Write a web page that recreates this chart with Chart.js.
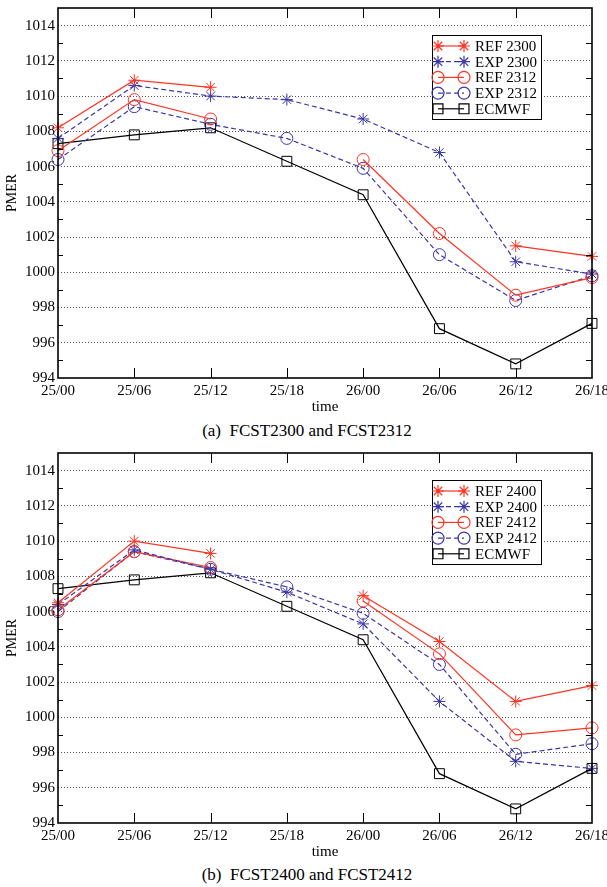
<!DOCTYPE html>
<html>
<head>
<meta charset="utf-8">
<script src="https://cdn.jsdelivr.net/npm/chart.js@4.4.0/dist/chart.umd.min.js"></script>
<style>
  body { margin: 0; background: #fff; }
  #page { position: relative; width: 607px; height: 887px; overflow: hidden; }
  canvas { position: absolute; left: 0; }
  .cap { position: absolute; left: 0; width: 614px; text-align: center; font: 17px "Liberation Serif", serif; color: #000; }
</style>
</head>
<body>
<div id="page">
  <canvas id="chartA" width="607" height="416" style="top:0"></canvas>
  <div class="cap" style="top:421px">(a)&nbsp; FCST2300 and FCST2312</div>
  <canvas id="chartB" width="607" height="416" style="top:445px"></canvas>
  <div class="cap" style="top:865px">(b)&nbsp; FCST2400 and FCST2412</div>
</div>
<script>
  /* ---------------- data ---------------- */
  const TIMES = ["25/00", "25/06", "25/12", "25/18", "26/00", "26/06", "26/12", "26/18"];

  const ECMWF    = [1007.3, 1007.8, 1008.2, 1006.3, 1004.4, 996.8, 994.8, 997.1];

  const REF_2300 = [1008.2, 1010.9, 1010.5, null, null, null, 1001.5, 1000.9];
  const EXP_2300 = [1007.6, 1010.6, 1010.0, 1009.8, 1008.7, 1006.8, 1000.6, 999.9];
  const REF_2312 = [1006.9, 1009.8, 1008.7, null, 1006.4, 1002.2, 998.7, 999.7];
  const EXP_2312 = [1006.4, 1009.4, 1008.4, 1007.6, 1005.9, 1001.0, 998.4, 999.8];

  const REF_2400 = [1006.5, 1010.0, 1009.3, null, 1006.9, 1004.3, 1000.9, 1001.8];
  const EXP_2400 = [1006.4, 1009.5, 1008.4, 1007.1, 1005.3, 1000.9, 997.5, 997.1];
  const REF_2412 = [1006.1, 1009.4, 1008.5, null, 1006.6, 1003.6, 999.0, 999.4];
  const EXP_2412 = [1006.0, 1009.4, 1008.4, 1007.4, 1005.9, 1003.0, 997.9, 998.5];

  const Y_MIN = 994, Y_MAX = 1015, Y_TOP_LABEL = 1014;

  const RED = "#ff3322";
  const BLUE = "#3a36a6";
  const FONT = "'Liberation Serif', 'Times New Roman', serif";

  function series(label, data, color, dashed, marker){
    const r = marker === "rect" ? 7 : 6;
    return {
      label, data,
      borderColor: color,
      borderWidth: 1.2,
      borderDash: dashed ? [5, 3] : [],
      pointStyle: marker,
      pointRadius: r,
      pointHoverRadius: r,
      pointBorderColor: color,
      pointBackgroundColor: "rgba(0,0,0,0)",
      pointBorderWidth: 1,
      fill: false,
      tension: 0,
      spanGaps: false
    };
  }

  /* ---------------- frame, inward ticks, boxed legend ---------------- */
  const framePlugin = {
    id: "frame",
    afterDraw(chart){
      const {ctx, chartArea: a, scales} = chart;
      const x = scales.x, y = scales.y;
      ctx.save();
      ctx.strokeStyle = "#000";
      ctx.setLineDash([]);
      ctx.lineWidth = 1;

      // x ticks pointing in, top and bottom
      for (let i = 1; i < TIMES.length - 1; i++){
        const px = Math.round(x.getPixelForValue(i)) + 0.5;
        ctx.beginPath();
        ctx.moveTo(px, a.bottom); ctx.lineTo(px, a.bottom - 10);
        ctx.moveTo(px, a.top); ctx.lineTo(px, a.top + 10);
        ctx.stroke();
      }
      // y minor ticks, left and right
      for (let v = Y_MIN + 1; v < Y_MAX; v += 2){
        const py = Math.round(y.getPixelForValue(v)) + 0.5;
        ctx.beginPath();
        ctx.moveTo(a.left, py); ctx.lineTo(a.left + 5, py);
        ctx.moveTo(a.right, py); ctx.lineTo(a.right - 6, py);
        ctx.stroke();
      }
      // box
      ctx.lineWidth = 1.6;
      ctx.strokeRect(a.left, a.top, a.right - a.left, a.bottom - a.top);

      // legend
      const sets = chart.data.datasets;
      const bw = 109, rowH = 15.7;
      const bh = 84;
      const bx = a.right - 51 - bw, by = a.top + 27;
      ctx.fillStyle = "#fff";
      ctx.fillRect(bx, by, bw, bh);
      ctx.lineWidth = 1;
      ctx.strokeStyle = "#000";
      ctx.strokeRect(bx + 0.5, by + 0.5, bw, bh);
      ctx.font = "15px " + FONT;
      ctx.textBaseline = "middle";
      sets.forEach((ds, i) => {
        const ry = by + 11 + i * rowH;
        const x1 = bx + 6, x2 = bx + 32;
        ctx.strokeStyle = ds.borderColor;
        ctx.lineWidth = ds.borderWidth;
        ctx.setLineDash(ds.borderDash);
        ctx.beginPath();
        ctx.moveTo(x1, ry); ctx.lineTo(x2, ry);
        ctx.stroke();
        ctx.setLineDash([]);
        ctx.fillStyle = "rgba(0,0,0,0)";
        const opts = {pointStyle: ds.pointStyle, radius: ds.pointRadius, rotation: 0, borderWidth: 1};
        Chart.helpers.drawPoint(ctx, opts, x1, ry);
        Chart.helpers.drawPoint(ctx, opts, x2, ry);
        ctx.fillStyle = "#000";
        ctx.fillText(ds.label, bx + 43, ry + 1);
      });
      ctx.restore();
    }
  };

  function makeChart(id, datasets){
    return new Chart(document.getElementById(id), {
      type: "line",
      data: { labels: TIMES, datasets },
      options: {
        responsive: false,
        animation: false,
        devicePixelRatio: 1,
        layout: { padding: { top: 5, left: 0, right: 15, bottom: 0 } },
        plugins: { legend: { display: false }, tooltip: { enabled: false } },
        scales: {
          x: {
            offset: false,
            grid: { display: false, drawTicks: false },
            border: { display: false },
            ticks: { color: "#000", font: { family: FONT, size: 15 }, padding: 4, maxRotation: 0, autoSkip: false },
            title: { display: true, text: "time", color: "#000", font: { family: FONT, size: 15 }, padding: 0 },
            afterFit(scale){ scale.height = 38; scale.paddingLeft = 0; scale.paddingRight = 0; }
          },
          y: {
            min: Y_MIN, max: Y_MAX,
            grid: {
              drawTicks: false,
              color: c => (c.tick && c.tick.value % 2 === 0 && c.tick.value > Y_MIN && c.tick.value <= Y_TOP_LABEL) ? "#555" : "rgba(0,0,0,0)",
              lineWidth: 1
            },
            border: { display: false, dash: [1, 2] },
            ticks: {
              stepSize: 1,
              color: "#000",
              font: { family: FONT, size: 15 },
              padding: 3,
              callback: v => (v % 2 === 0 && v <= Y_TOP_LABEL) ? String(v) : ""
            },
            title: { display: true, text: "PMER", color: "#000", font: { family: FONT, size: 14 }, padding: 4 },
            afterFit(scale){ scale.width = 58; scale.paddingTop = 0; scale.paddingBottom = 0; }
          }
        }
      },
      plugins: [framePlugin]
    });
  }

  makeChart("chartA", [
    series("REF 2300", REF_2300, RED, false, "star"),
    series("EXP 2300", EXP_2300, BLUE, true, "star"),
    series("REF 2312", REF_2312, RED, false, "circle"),
    series("EXP 2312", EXP_2312, BLUE, true, "circle"),
    series("ECMWF", ECMWF, "#000", false, "rect")
  ]);

  makeChart("chartB", [
    series("REF 2400", REF_2400, RED, false, "star"),
    series("EXP 2400", EXP_2400, BLUE, true, "star"),
    series("REF 2412", REF_2412, RED, false, "circle"),
    series("EXP 2412", EXP_2412, BLUE, true, "circle"),
    series("ECMWF", ECMWF, "#000", false, "rect")
  ]);
</script>
</body>
</html>
